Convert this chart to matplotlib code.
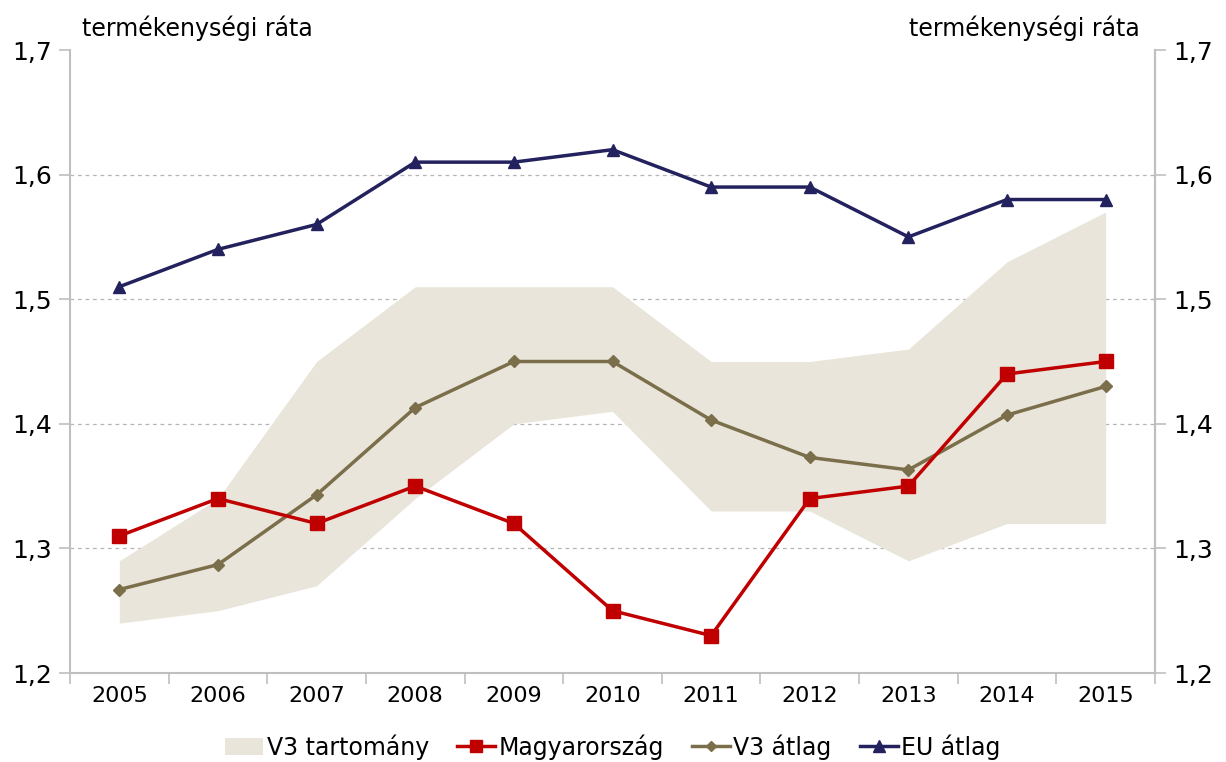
import matplotlib
matplotlib.use("Agg")
from matplotlib import pyplot as plt
from matplotlib.patches import Patch
from matplotlib.lines import Line2D

years = ['2005', '2006', '2007', '2008', '2009', '2010', '2011', '2012', '2013', '2014', '2015']
v3_low = [1.24, 1.25, 1.27, 1.34, 1.40, 1.41, 1.33, 1.33, 1.29, 1.32, 1.32]
v3_high = [1.29, 1.34, 1.45, 1.51, 1.51, 1.51, 1.45, 1.45, 1.46, 1.53, 1.57]
hungary = [1.31, 1.34, 1.32, 1.35, 1.32, 1.25, 1.23, 1.34, 1.35, 1.44, 1.45]
v3_avg = [1.267, 1.287, 1.343, 1.413, 1.45, 1.45, 1.403, 1.373, 1.363, 1.407, 1.43]
eu_avg = [1.51, 1.54, 1.56, 1.61, 1.61, 1.62, 1.59, 1.59, 1.55, 1.58, 1.58]
yticks = [1.2, 1.3, 1.4, 1.5, 1.6, 1.7]

band_col = '#E9E5DA'
red = '#C00000'
olive = '#7B6F4B'
navy = '#24225E'
spine_col = '#BFBFBF'

plt.rcParams['font.family'] = ['DejaVu Sans']
fig = plt.figure(figsize=(12.26, 7.62), dpi=100)
ax = fig.add_axes([70 / 1226, 1 - 673 / 762, 1085 / 1226, 623 / 762])

x = list(range(len(years)))
ax.fill_between(x, v3_low, v3_high, color=band_col, lw=0, zorder=1)
ax.plot(x, hungary, color=red, lw=2.5, marker='s', ms=10, zorder=4)
ax.plot(x, v3_avg, color=olive, lw=2.5, marker='D', ms=6, zorder=3)
ax.plot(x, eu_avg, color=navy, lw=2.5, marker='^', ms=9, zorder=5)

ylabels = [f'{v:.1f}'.replace('.', ',') for v in yticks]
ax.set_xlim(-0.5, len(years) - 0.5)
ax.set_ylim(1.2, 1.7)
ax.set_yticks(yticks)
ax.set_yticklabels(ylabels, fontsize=18)
ax.set_xticks(x)
ax.set_xticklabels(years, fontsize=16)
ax.set_xticks([i - 0.5 for i in range(len(years) + 1)], minor=True)
ax.tick_params(axis='x', which='major', length=0, pad=9)
ax.tick_params(axis='x', which='minor', length=8, color=spine_col, width=1.2)
ax.tick_params(axis='y', length=8, color=spine_col, width=1.2, pad=5)
for t in [1.3, 1.4, 1.5, 1.6]:
    ax.axhline(t, color='#B5B5B5', lw=0.9, ls=(0, (3, 3)), zorder=0)

ax.spines['top'].set_visible(False)
for s in ['left', 'right', 'bottom']:
    ax.spines[s].set_color(spine_col)
    ax.spines[s].set_linewidth(1.5)

ax2 = ax.twinx()
ax2.set_ylim(1.2, 1.7)
ax2.set_yticks(yticks)
ax2.set_yticklabels(ylabels, fontsize=18)
ax2.tick_params(axis='y', length=8, color=spine_col, width=1.2, pad=5)
for s in ['top', 'left', 'bottom']:
    ax2.spines[s].set_visible(False)
ax2.spines['right'].set_color(spine_col)
ax2.spines['right'].set_linewidth(1.5)

fig.text(82 / 1226, 1 - 28 / 762, 'termékenységi ráta', fontsize=17, va='center', ha='left')
fig.text(1140 / 1226, 1 - 28 / 762, 'termékenységi ráta', fontsize=17, va='center', ha='right')

handles = [
    Patch(facecolor=band_col, edgecolor='none'),
    Line2D([], [], color=red, lw=2.5, marker='s', ms=9),
    Line2D([], [], color=olive, lw=2.5, marker='D', ms=5),
    Line2D([], [], color=navy, lw=2.5, marker='^', ms=8),
]
labels = ['V3 tartomány', 'Magyarország', 'V3 átlag', 'EU átlag']
fig.legend(handles, labels, loc='center', bbox_to_anchor=(0.5, 1 - 747 / 762), ncol=4,
           frameon=False, fontsize=17, handlelength=1.6, handletextpad=0.15, columnspacing=1.2)

fig.savefig('out.png', dpi=100)
